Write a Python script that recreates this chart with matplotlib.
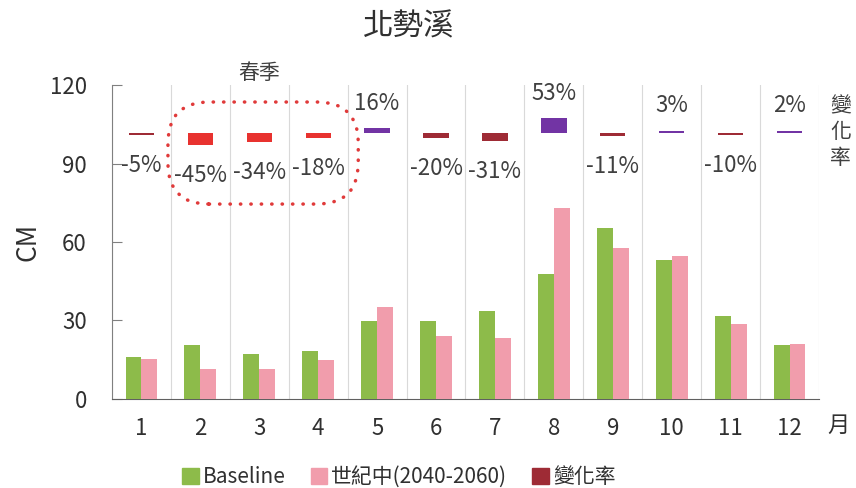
import numpy as np
import matplotlib
matplotlib.use('Agg')
import matplotlib.pyplot as plt
from matplotlib.patches import FancyBboxPatch, Patch

plt.rcParams['font.family'] = ['Noto Sans CJK TC', 'DejaVu Sans']

# data
months = ['1', '2', '3', '4', '5', '6', '7', '8', '9', '10', '11', '12']
baseline = [16.2, 20.6, 17.2, 18.5, 29.8, 29.8, 33.7, 47.6, 65.2, 53.1, 31.7, 20.6]
midcentury = [15.2, 11.3, 11.3, 14.9, 35.1, 24.1, 23.4, 73.0, 57.8, 54.5, 28.8, 21.0]
change_pct = [-5, -45, -34, -18, 16, -20, -31, 53, -11, 3, -10, 2]
spring = [2, 3, 4]

GREEN = '#8DBB4A'
PINK = '#F19DAC'
DARK_RED = '#9E2B35'
RED = '#E8322F'
PURPLE = '#7234A4'
TXT = '#404040'

fig = plt.figure(figsize=(8.56, 4.88), dpi=100)
ax = fig.add_axes([0.1308, 0.1824, 0.8260, 0.6434])

x = np.arange(1, len(months) + 1)
w = 0.27
ax.bar(x - w / 2, baseline, w, color=GREEN, label='Baseline', zorder=3)
ax.bar(x + w / 2, midcentury, w, color=PINK, label='世紀中(2040-2060)', zorder=3)

# change-rate markers: small bars near y=102, thickness follows |change|
base = 101.8
for xi, p in zip(x, change_pct):
    h = max(abs(p) * 0.105, 0.8)
    if p < 0:
        c = RED if xi in spring else DARK_RED
        ax.bar(xi, h, 0.43, bottom=base - h, color=c, zorder=3)
        ax.annotate(f'{p}%', (xi, base - h), xytext=(0, -22), textcoords='offset points',
                    ha='center', va='center', fontsize=16, color=TXT)
    else:
        ax.bar(xi, h, 0.43, bottom=base, color=PURPLE, zorder=3)
        ax.annotate(f'{p}%', (xi, base + h), xytext=(0, 18), textcoords='offset points',
                    ha='center', va='center', fontsize=16, color=TXT)

ax.set_xlim(0.5, 12.5)
ax.set_ylim(0, 120)
ax.set_yticks([0, 30, 60, 90, 120])
ax.set_xticks(x)
ax.set_xticklabels(months)
ax.tick_params(axis='y', direction='in', length=7, color='#808080', pad=18,
               labelsize=16, labelcolor='#303030')
ax.tick_params(axis='x', length=0, pad=13, labelsize=16, labelcolor='#303030')
for lab in ax.get_xticklabels() + ax.get_yticklabels():
    lab.set_fontweight('medium')

for xb in np.arange(0.5, 13.0, 1.0):
    ax.axvline(xb, color='#D9D9D9', lw=0.8, zorder=1)

ax.spines['top'].set_visible(False)
ax.spines['right'].set_visible(False)
ax.spines['left'].set_color('#808080')
ax.spines['bottom'].set_color('#606060')

ax.set_ylabel('CM', fontsize=19, fontweight='medium', color='#303030')
ax.yaxis.set_label_coords(-0.10, 0.5)

# dotted rounded box around spring months
fig.canvas.draw()
(x0p, y0p) = ax.transData.transform((0, 0))
(x1p, y1p) = ax.transData.transform((1, 1))
aspect = (1 / (y1p - y0p)) / (1 / (x1p - x0p))
box = FancyBboxPatch((1.45, 74.5), 4.68 - 1.45, 113.5 - 74.5,
                     boxstyle='round,pad=0,rounding_size=0.7', mutation_aspect=aspect,
                     fill=False, edgecolor='#E03A3A', lw=2.5,
                     linestyle=(0, (0.1, 2.9)), capstyle='round', zorder=4, clip_on=False)
ax.add_patch(box)
ax.text(3.0, 124.5, '春季', ha='center', va='center', fontsize=15, color=TXT)

fig.text(0.478, 0.944, '北勢溪', ha='center', va='center', fontsize=22,
         fontweight='medium', color='#303030')
for i, ch in enumerate('變化率'):
    fig.text(0.982, 0.781 - i * 0.052, ch, ha='center', va='center', fontsize=15, color=TXT)
fig.text(0.979, 0.128, '月', ha='center', va='center', fontsize=16, color='#303030')

handles = [Patch(color=GREEN), Patch(color=PINK), Patch(color=DARK_RED)]
labels = ['Baseline', '世紀中(2040-2060)', '變化率']
leg = fig.legend(handles, labels, loc='center', bbox_to_anchor=(0.466, 0.022), ncol=3,
                 frameon=False, fontsize=15, handlelength=0.8, handleheight=0.8,
                 handletextpad=0.2, columnspacing=1.2, labelcolor='#303030')
for t in leg.get_texts():
    t.set_fontweight('medium')

plt.savefig('out.png', dpi=100)
